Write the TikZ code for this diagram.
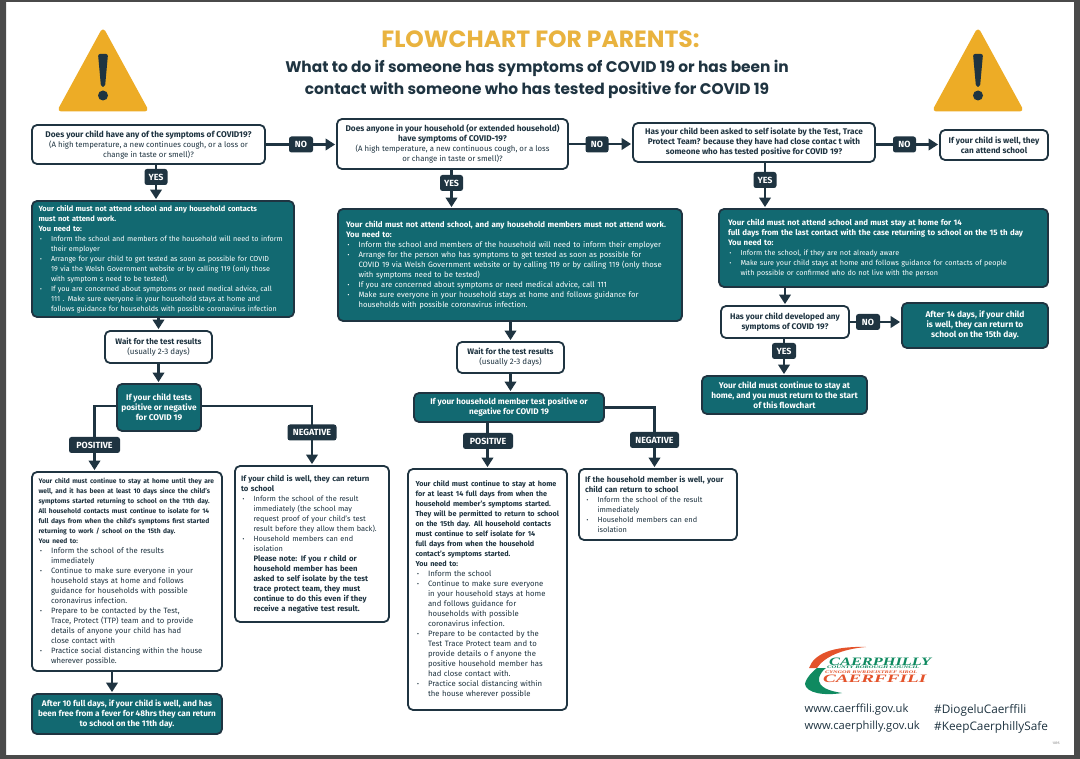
\documentclass[tikz,border=0pt]{standalone}
\usepackage{fontspec}
\usepackage{graphicx}
\setmainfont{Fira Sans}
\newfontfamily\titlefont{Poppins}
\newfontfamily\webfont{Open Sans}
\newfontfamily\logofont{Liberation Serif}
\usetikzlibrary{arrows.meta,positioning,calc}
\definecolor{navy}{HTML}{1F3441}
\definecolor{tealbox}{HTML}{126971}
\definecolor{gold}{HTML}{E9B33F}
\definecolor{amber}{HTML}{EDAC26}
\definecolor{frame}{HTML}{4A4A4A}
\definecolor{logogreen}{HTML}{0F8A60}
\definecolor{logoorange}{HTML}{E4532B}
\newcommand{\Bl}{\hspace*{12.5pt}\llap{\makebox[12.5pt][l]{\hspace{1.5pt}\textbf{·}}}}
\newcommand{\Cn}{\hspace*{12.5pt}}
\newcommand{\Bsz}{8}
\newcommand{\Bd}[1]{{\fontsize{\Bsz}{10}\selectfont\bfseries #1}}
\hyphenpenalty=10000
\exhyphenpenalty=10000
\pgfdeclarelayer{page}
\pgfdeclarelayer{back}
\pgfsetlayers{page,back,main}
\tikzset{
  x=1pt,y=-1pt,
  base/.style={rounded corners=5pt,line width=1.8pt,draw=navy,inner sep=0pt},
  fs/.style 2 args={font=\fontsize{#1}{10}\selectfont\renewcommand{\Bsz}{#2}},
  whitebox/.style={base,fill=white,text=navy},
  tealbx/.style={base,fill=tealbox,text=white},
  tag/.style={rounded corners=2.5pt,fill=navy,text=white,inner sep=0pt,
    font=\fontsize{8.9}{10}\selectfont\bfseries},
  conn/.style={draw=navy,line width=2.2pt},
  arr/.style={conn,-{Triangle[width=11.5pt,length=9.5pt]},shorten >=1pt},
  warntri/.style={fill=amber,draw=amber,line width=5pt,line join=round},
  webtext/.style={text=navy,anchor=west,inner sep=0pt},
}
\begin{document}
\begin{tikzpicture}
\useasboundingbox (0,0) rectangle (1080,759);
\begin{pgfonlayer}{page}
\fill[white] (0,0) rectangle (1080,759);
\fill[frame] (0,0) rectangle (1080,2) (0,0) rectangle (6,759) (1074,0) rectangle (1080,759) (0,755) rectangle (1080,759);
\end{pgfonlayer}

% warning triangles
\fill[warntri] (103,32) -- (61,109) -- (145,109) -- cycle;
\fill[navy,rounded corners=2pt] (98,54) -- (108,54) -- (105,87) -- (101,87) -- cycle;
\fill[navy] (103,95.5) circle (5);
\fill[warntri] (978,32) -- (936,109) -- (1020,109) -- cycle;
\fill[navy,rounded corners=2pt] (973,54) -- (983,54) -- (980,87) -- (976,87) -- cycle;
\fill[navy] (978,95.5) circle (5);

% title
\node[text=gold,font=\titlefont\fontsize{23.5}{26}\selectfont\bfseries] (title) at (540.5,39) {FLOWCHART FOR PARENTS:};
\node[text=navy,align=center,font=\titlefont\fontsize{15.4}{22}\selectfont\bfseries] (sub) at (537,79) {What to do if someone has symptoms of COVID 19 or has been in\\contact with someone who has tested positive for COVID 19};

% column 1
\node[whitebox,fs={7.8}{8.3},minimum width=233pt,minimum height=39pt,align=center] (q1) at (148.5,144.5) {\Bd{Does your child have any of the symptoms of COVID19?}\\(A high temperature, a new continues cough, or a loss or\\change in taste or smell)?};
\node[tealbx,fs={7.2}{7.5},minimum width=262pt,minimum height=116pt,text width=249pt,align=left] (t1) at (163,259) {\Bd{Your child must not attend school and any household contacts}\\\Bd{must not attend work.}\\\Bd{You need to:}\\
\Bl Inform the school and members of the household will need to inform\\\Cn their employer\\
\Bl Arrange for your child to get tested as soon as possible for COVID\\\Cn 19 via the Welsh Government website or by calling 119 (only those\\\Cn with symptom s need to be tested).\\
\Bl If you are concerned about symptoms or need medical advice, call\\\Cn 111 . Make sure everyone in your household stays at home and\\\Cn follows guidance for households with possible coronavirus infection};
\node[whitebox,fs={8}{8},minimum width=107pt,minimum height=32pt,align=center] (wait1) at (158.5,347) {\Bd{Wait for the test results}\\(usually 2-3 days)};
\node[tealbx,fs={8.3}{8.3},minimum width=84pt,minimum height=47pt,align=center] (t7) at (159,407.5) {\Bd{If your child tests}\\\Bd{positive or negative}\\\Bd{for COVID 19}};
\node[whitebox,fs={7.7}{6.65},minimum width=190pt,minimum height=199pt,text width=177pt,align=left] (w1) at (127,571.5) {\Bd{Your child must continue to stay at home until they are}\\\Bd{well, and it has been at least 10 days since the child’s}\\\Bd{symptoms started returning to school on the 11th day.}\\\Bd{All household contacts must continue to isolate for 14}\\\Bd{full days from when the child’s symptoms first started}\\\Bd{returning to work / school on the 15th day.}\\\Bd{You need to:}\\
\Bl Inform the school of the results\\\Cn immediately\\
\Bl Continue to make sure everyone in your\\\Cn household stays at home and follows\\\Cn guidance for households with possible\\\Cn coronavirus infection.\\
\Bl Prepare to be contacted by the Test,\\\Cn Trace, Protect (TTP) team and to provide\\\Cn details of anyone your child has had\\\Cn close contact with\\
\Bl Practice social distancing within the house\\\Cn wherever possible.};
\node[tealbx,fs={8.2}{8.2},minimum width=190pt,minimum height=40pt,align=center] (t8) at (127,714) {\Bd{After 10 full days, if your child is well, and has}\\\Bd{been free from a fever for 48hrs they can return}\\\Bd{to school on the 11th day.}};
\node[whitebox,fs={7.4}{7.75},minimum width=154pt,minimum height=156pt,text width=142pt,align=left] (w2) at (312,544) {\Bd{If your child is well, they can return}\\\Bd{to school}\\
\Bl Inform the school of the result\\\Cn immediately (the school may\\\Cn request proof of your child’s test\\\Cn result before they allow them back).\\
\Bl Household members can end\\\Cn isolation\\
\Cn\Bd{Please note: If you r child or}\\\Cn\Bd{household member has been}\\\Cn\Bd{asked to self isolate by the test}\\\Cn\Bd{trace protect team, they must}\\\Cn\Bd{continue to do this even if they}\\\Cn\Bd{receive a negative test result.}};

% column 2
\node[whitebox,fs={7.8}{8.3},minimum width=231pt,minimum height=50pt,align=center] (q2) at (452.5,144) {\Bd{Does anyone in your household (or extended household)}\\\Bd{have symptoms of COVID-19?}\\(A high temperature, a new continuous cough, or a loss\\or change in taste or smell)?};
\node[tealbx,fs={7.7}{7.9},minimum width=344pt,minimum height=112pt,text width=328pt,align=left] (t2) at (510,265) {\Bd{Your child must not attend school, and any household members must not attend work.}\\\Bd{You need to:}\\
\Bl Inform the school and members of the household will need to inform their employer\\
\Bl Arrange for the person who has symptoms to get tested as soon as possible for\\\Cn COVID 19 via Welsh Government website or by calling 119 or by calling 119 (only those\\\Cn with symptoms need to be tested)\\
\Bl If you are concerned about symptoms or need medical advice, call 111\\
\Bl Make sure everyone in your household stays at home and follows guidance for\\\Cn households with possible coronavirus infection.};
\node[whitebox,fs={8}{8},minimum width=107pt,minimum height=31pt,align=center] (wait2) at (510.5,357.5) {\Bd{Wait for the test results}\\(usually 2-3 days)};
\node[tealbx,fs={8.2}{8.2},minimum width=190pt,minimum height=29pt,align=center] (t9) at (509,407.5) {\Bd{If your household member test positive or}\\\Bd{negative for COVID 19}};
\node[whitebox,fs={7.75}{7.25},minimum width=159pt,minimum height=241pt,text width=144pt,align=left] (w3) at (487.5,589.5) {\Bd{Your child must continue to stay at home}\\\Bd{for at least 14 full days from when the}\\\Bd{household member’s symptoms started.}\\\Bd{They will be permitted to return to school}\\\Bd{on the 15th day. All household contacts}\\\Bd{must continue to self isolate for 14}\\\Bd{full days from when the household}\\\Bd{contact’s symptoms started.}\\\Bd{You need to:}\\
\Bl Inform the school\\
\Bl Continue to make sure everyone\\\Cn in your household stays at home\\\Cn and follows guidance for\\\Cn households with possible\\\Cn coronavirus infection.\\
\Bl Prepare to be contacted by the\\\Cn Test Trace Protect team and to\\\Cn provide details o f anyone the\\\Cn positive household member has\\\Cn had close contact with.\\
\Bl Practice social distancing within\\\Cn the house wherever possible};
\node[whitebox,fs={7.4}{7.85},minimum width=158pt,minimum height=71pt,text width=146pt,align=left] (w4) at (658,504.5) {\Bd{If the household member is well, your}\\\Bd{child can return to school}\\
\Bl Inform the school of the result\\\Cn immediately\\
\Bl Household members can end\\\Cn isolation};

% column 3
\node[whitebox,fs={8.2}{8.2},minimum width=242pt,minimum height=39pt,align=center] (q3) at (754,142.5) {\Bd{Has your child been asked to self isolate by the Test, Trace}\\\Bd{Protect Team? because they have had close contac t with}\\\Bd{someone who has tested positive for COVID 19?}};
\node[whitebox,fs={8.2}{8.2},minimum width=108pt,minimum height=30pt,align=center] (q4) at (994,145) {\Bd{If your child is well, they}\\\Bd{can attend school}};
\node[tealbx,fs={7.2}{7.9},minimum width=329pt,minimum height=78pt,text width=311pt,align=left] (t3) at (883.5,248) {\Bd{Your child must not attend school and must stay at home for 14}\\\Bd{full days from the last contact with the case returning to school on the 15 th day}\\\Bd{You need to:}\\
\Bl Inform the school, if they are not already aware\\
\Bl Make sure your child stays at home and follows guidance for contacts of people\\\Cn with possible or confirmed who do not live with the person};
\node[whitebox,fs={8.2}{8.2},minimum width=128pt,minimum height=32pt,align=center] (q5) at (785,322) {\Bd{Has your child developed any}\\\Bd{symptoms of COVID 19?}};
\node[tealbx,fs={8.4}{8.4},minimum width=146pt,minimum height=45pt,align=center] (t5) at (975,325.5) {\Bd{After 14 days, if your child}\\\Bd{is well, they can return to}\\\Bd{school on the 15th day.}};
\node[tealbx,fs={8.3}{8.3},minimum width=165pt,minimum height=38pt,align=center] (t6) at (784.5,395) {\Bd{Your child must continue to stay at}\\\Bd{home, and you must return to the start}\\\Bd{of this flowchart}};

% labels
\node[tag,minimum width=23pt,minimum height=16pt] (yes1) at (156,177) {YES};
\node[tag,minimum width=24pt,minimum height=16pt] (no1) at (301,144.5) {NO};
\node[tag,minimum width=23pt,minimum height=16pt] (yes2) at (451.5,183) {YES};
\node[tag,minimum width=23pt,minimum height=16pt] (no2) at (597,144.5) {NO};
\node[tag,minimum width=23pt,minimum height=16pt] (yes3) at (765,180) {YES};
\node[tag,minimum width=23pt,minimum height=16pt] (no3) at (904.5,144.5) {NO};
\node[tag,minimum width=24pt,minimum height=16pt] (no5) at (868,322) {NO};
\node[tag,minimum width=24pt,minimum height=16pt] (yes5) at (784,351) {YES};
\node[tag,minimum width=51pt,minimum height=16pt] (pos1) at (94.5,445) {POSITIVE};
\node[tag,minimum width=49pt,minimum height=16pt] (neg1) at (312,432.5) {NEGATIVE};
\node[tag,minimum width=50pt,minimum height=16pt] (pos2) at (488,441) {POSITIVE};
\node[tag,minimum width=49pt,minimum height=16pt] (neg2) at (654.5,440) {NEGATIVE};

% connectors
\begin{pgfonlayer}{back}
\draw[arr] (q1.east) -- (q1.east -| q2.west);
\draw[arr] (q2.east) -- (q2.east -| q3.west);
\draw[arr] (q3.east |- no3) -- (no3 -| q4.west);
\draw[arr] (yes1 |- q1.south) -- (yes1 |- t1.north);
\draw[arr] (yes2 |- q2.south) -- (yes2 |- t2.north);
\draw[arr] (yes3 |- q3.south) -- (yes3 |- t3.north);
\draw[arr] (wait1.north |- t1.south) -- (wait1.north);
\draw[arr] (wait1.south) -- (wait1.south |- t7.north);
\draw[arr] (t2.south -| wait2.north) -- (wait2.north);
\draw[arr] (wait2.south) -- (wait2.south |- t9.north);
\draw[arr] ([yshift=1.5pt]t7.west) -| (pos1.north) -- (pos1.north |- w1.north);
\draw[arr] ([yshift=1.5pt]t7.east) -| (w2.north);
\draw[arr] ([xshift=-15pt]w1.south) -- ([xshift=-15pt]t8.north);
\draw[arr] (t9.south -| w3.north) -- (w3.north);
\draw[arr] (t9.east) -| (neg2.north) -- (neg2.north |- w4.north);
\draw[arr] (q5.north |- t3.south) -- (q5.north);
\draw[arr] (q5.east) -- (q5.east -| t5.west);
\draw[arr] (yes5 |- q5.south) -- (yes5 |- t6.north);
\end{pgfonlayer}

% logo
\fill[logoorange] (809,668) .. controls (814,654) and (832,646) .. (866,647) .. controls (842,649) and (824,657) .. (817,668) -- cycle;
\fill[logogreen] (817,668) .. controls (808,675) and (805,682) .. (805,684) .. controls (806,693) and (824,696) .. (842,693) .. controls (830,691) and (818,688) .. (819,678) .. controls (820,674) and (823,670) .. (826,668) -- cycle;
\node[text=logogreen,inner sep=0pt,anchor=west] (lg1) at (829,661.5) {\resizebox{102pt}{7.5pt}{\logofont\bfseries\itshape CAERPHILLY}};
\node[text=logogreen,inner sep=0pt,anchor=west] (lg2) at (827,667.6) {\resizebox{92pt}{2.6pt}{\logofont\bfseries\itshape COUNTY BOROUGH COUNCIL}};
\node[text=logoorange,inner sep=0pt,anchor=west] (lg3) at (825,672) {\resizebox{92pt}{2.6pt}{\logofont\bfseries\itshape CYNGOR BWRDEISTREF SIROL}};
\node[text=logoorange,inner sep=0pt,anchor=west] (lg4) at (823,678.5) {\resizebox{103pt}{7.5pt}{\logofont\bfseries\itshape CAERFFILI}};

% footer
\node[webtext,font=\webfont\fontsize{11.2}{14}\selectfont] (web1) at (804.5,710) {www.caerffili.gov.uk};
\node[webtext,font=\webfont\fontsize{11.2}{14}\selectfont] (web2) at (804.5,727) {www.caerphilly.gov.uk};
\node[webtext,font=\webfont\fontsize{11.8}{14}\selectfont] (hash1) at (934,710) {\#DiogeluCaerffili};
\node[webtext,font=\webfont\fontsize{11.8}{14}\selectfont] (hash2) at (934,727) {\#KeepCaerphillySafe};
\node[text=gray,inner sep=0pt,font=\fontsize{3.5}{4}\selectfont] (code) at (1056,743) {1095};
\end{tikzpicture}
\end{document}
